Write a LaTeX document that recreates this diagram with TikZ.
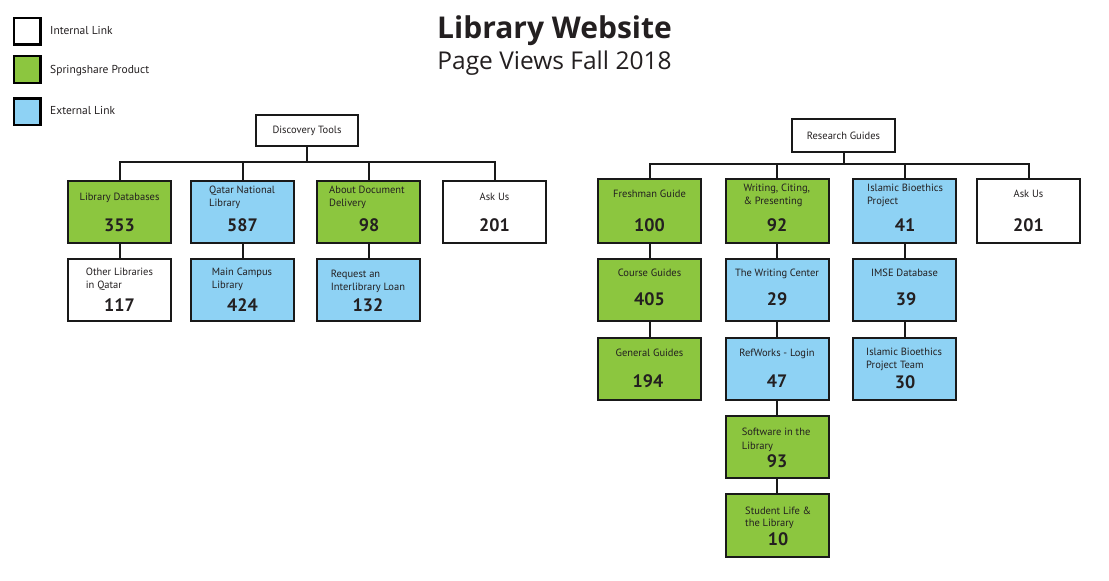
\documentclass[tikz,border=0pt]{standalone}
\usepackage{fontspec}
\setmainfont{PT Sans}
\newfontfamily\headfont{Open Sans}
\begin{document}
\begin{tikzpicture}[x=1pt,y=-1pt,
  ink/.style={draw=black!90, line width=2pt},
  card/.style={ink, minimum width=103pt, minimum height=62pt, inner sep=0pt},
  internal/.style={card, fill=white},
  spring/.style={card, fill=springgreen},
  external/.style={card, fill=extblue},
  rootbox/.style={ink, fill=white, inner sep=0pt, font=\fontsize{10.5}{12}\selectfont, text=txt},
  lbl/.style={font=\fontsize{10.5}{12}\selectfont, text=txt, inner sep=0pt},
  keylbl/.style={font=\fontsize{11.5}{13}\selectfont, text=txt, inner sep=0pt, anchor=base west},
  num/.style={font=\fontsize{18}{20}\selectfont\bfseries, text=txt, inner sep=0pt, anchor=base},
  keybox/.style={draw=black, line width=2.3pt, minimum width=26.5pt, minimum height=26.5pt, inner sep=0pt},
  wire/.style={draw=black!90, line width=2pt}
]
\definecolor{springgreen}{HTML}{8CC63F}
\definecolor{extblue}{HTML}{8ED2F4}
\definecolor{txt}{HTML}{231F20}
\useasboundingbox (0,0) rectangle (1109,581);

% ---------- legend ----------
\node[keybox, fill=white] (k1) at (27.3,31.2) {};
\node[keybox, fill=springgreen] (k2) at (27.3,69.5) {};
\node[keybox, fill=extblue] (k3) at (27.3,111.7) {};
\node[keylbl] (k1t) at (50,34.5) {Internal Link};
\node[keylbl] (k2t) at (50,73) {Springshare Product};
\node[keylbl] (k3t) at (50,114.3) {External Link};

% ---------- title ----------
\node[font=\headfont\fontsize{30}{34}\selectfont\bfseries, text=txt, anchor=base, inner sep=0pt] (title) at (554.5,38.5) {Library Website};
\node[font=\headfont\fontsize{24.5}{28}\selectfont, text=txt, anchor=base, inner sep=0pt] (subtitle) at (554.5,69) {Page Views Fall 2018};

% ---------- Discovery Tools tree ----------
\node[rootbox, minimum width=102pt, minimum height=31pt] (dt) at (307,130.5) {Discovery Tools};
\coordinate (lbus) at (307,162);

\node[spring]   (ld)  at (119.5,212) {};
\node[external] (qnl) at (242.5,212) {};
\node[spring]   (add) at (368.5,212) {};
\node[internal] (au1) at (494.5,212) {};
\node[internal] (ol)  at (119.5,290) {};
\node[external] (mcl) at (242.5,290) {};
\node[external] (ill) at (368.5,290) {};

\node[lbl, anchor=base] (ldt) at (119.5,200) {Library Databases};
\node[num] (ldn) at (119.5,231.7) {353};
\node[lbl, anchor=base west] (qnla) at (209,193.3) {Qatar National};
\node[lbl, anchor=base west] (qnlb) at (209,206.7) {Library};
\node[num] (qnln) at (242.5,231.7) {587};
\node[lbl, anchor=base west] (adda) at (329,193.3) {About Document};
\node[lbl, anchor=base west] (addb) at (329,206.7) {Delivery};
\node[num] (addn) at (369,231.7) {98};
\node[lbl, anchor=base] (au1t) at (494.5,200) {Ask Us};
\node[num] (au1n) at (494.5,231.7) {201};

\node[lbl, anchor=base west] (ola) at (85.7,275) {Other Libraries};
\node[lbl, anchor=base west] (olb) at (85.7,288.3) {in Qatar};
\node[num] (oln) at (119.5,311.7) {117};
\node[lbl, anchor=base west] (mcla) at (211.7,275) {Main Campus};
\node[lbl, anchor=base west] (mclb) at (211.7,288.3) {Library};
\node[num] (mcln) at (242.5,311.7) {424};
\node[lbl, anchor=base west] (illa) at (330.7,277.3) {Request an};
\node[lbl, anchor=base west] (illb) at (330.7,290.7) {Interlibrary Loan};
\node[num] (illn) at (368,311.7) {132};

\draw[wire] (dt.south) -- (lbus);
\draw[wire] (ld.north) -- (ld.north |- lbus) -- (au1.north |- lbus) -- (au1.north);
\draw[wire] (qnl.north) -- (qnl.north |- lbus);
\draw[wire] (add.north) -- (add.north |- lbus);
\draw[wire] (ld.south) -- (ol.north);
\draw[wire] (qnl.south) -- (mcl.north);
\draw[wire] (add.south) -- (ill.north);

% ---------- Research Guides tree ----------
\node[rootbox, minimum width=103pt, minimum height=33pt] (rg) at (843.5,135.5) {Research Guides};
\coordinate (rbus) at (843.5,164.3);

\node[spring, minimum height=64pt]   (fg)  at (649.5,211) {};
\node[spring, minimum height=64pt]   (wcp) at (777,211) {};
\node[external, minimum height=64pt] (ibp) at (904.5,211) {};
\node[internal, minimum height=64pt] (au2) at (1028.5,211) {};
\node[spring]   (cg)  at (649.5,290) {};
\node[external] (twc) at (777,290) {};
\node[external] (imse) at (904.5,290) {};
\node[spring]   (gg)  at (649.5,369) {};
\node[external] (rw)  at (777,369) {};
\node[external] (ibt) at (904.5,369) {};
\node[spring]   (sil) at (777,447) {};
\node[spring, minimum height=63pt] (sl) at (777,525.8) {};

\node[lbl, anchor=base] (fgt) at (649.5,197.7) {Freshman Guide};
\node[num] (fgn) at (649.5,231.7) {100};
\node[lbl, anchor=base west] (wcpa) at (743.3,191.7) {Writing, Citing,};
\node[lbl, anchor=base west] (wcpb) at (743.3,204.3) {\& Presenting};
\node[num] (wcpn) at (777,231.7) {92};
\node[lbl, anchor=base west] (ibpa) at (867,191.7) {Islamic Bioethics};
\node[lbl, anchor=base west] (ibpb) at (867,204.3) {Project};
\node[num] (ibpn) at (905,231.7) {41};
\node[lbl, anchor=base] (au2t) at (1028.5,197.7) {Ask Us};
\node[num] (au2n) at (1028.5,231.7) {201};

\node[lbl, anchor=base] (cgt) at (649.5,276.7) {Course Guides};
\node[num] (cgn) at (649.5,305) {405};
\node[lbl, anchor=base] (twct) at (777,276.7) {The Writing Center};
\node[num] (twcn) at (777,305) {29};
\node[lbl, anchor=base] (imset) at (904.5,276.7) {IMSE Database};
\node[num] (imsen) at (906,305) {39};

\node[lbl, anchor=base] (ggt) at (649.5,356.7) {General Guides};
\node[num] (ggn) at (648,387.7) {194};
\node[lbl, anchor=base] (rwt) at (777,356.7) {RefWorks - Login};
\node[num] (rwn) at (777,387.7) {47};
\node[lbl, anchor=base west] (ibta) at (866,355) {Islamic Bioethics};
\node[lbl, anchor=base west] (ibtb) at (866,368.3) {Project Team};
\node[num] (ibtn) at (905,388) {30};

\node[lbl, anchor=base west] (sila) at (741.7,435.7) {Software in the};
\node[lbl, anchor=base west] (silb) at (741.7,449) {Library};
\node[num] (siln) at (777,467.3) {93};
\node[lbl, anchor=base west] (sla) at (745,514) {Student Life \&};
\node[lbl, anchor=base west] (slb) at (745,526.7) {the Library};
\node[num] (sln) at (778,545.7) {10};

\draw[wire] (rg.south) -- (rbus);
\draw[wire] (fg.north) -- (fg.north |- rbus) -- (au2.north |- rbus) -- (au2.north);
\draw[wire] (wcp.north) -- (wcp.north |- rbus);
\draw[wire] (ibp.north) -- (ibp.north |- rbus);
\draw[wire] (fg.south) -- (cg.north);
\draw[wire] (cg.south) -- (gg.north);
\draw[wire] (wcp.south) -- (twc.north);
\draw[wire] (twc.south) -- (rw.north);
\draw[wire] (rw.south) -- (sil.north);
\draw[wire] (sil.south) -- (sl.north);
\draw[wire] (ibp.south) -- (imse.north);
\draw[wire] (imse.south) -- (ibt.north);
\end{tikzpicture}
\end{document}
